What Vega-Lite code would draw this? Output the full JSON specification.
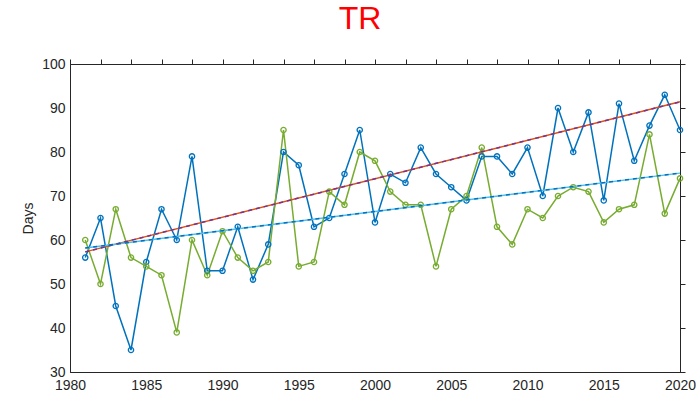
{
  "$schema": "https://vega.github.io/schema/vega-lite/v6.json",
  "width": 610,
  "height": 308,
  "autosize": {"type": "none"},
  "padding": {"left": 70, "top": 64, "right": 17, "bottom": 25},
  "title": {
    "text": "TR",
    "color": "#ff0000",
    "font": "Liberation Sans",
    "fontSize": 32,
    "fontWeight": "normal",
    "anchor": "middle",
    "dx": -15,
    "offset": 21
  },
  "datasets": {
    "annual": [
      {"year": 1981, "series": "series1", "days": 56}, {"year": 1982, "series": "series1", "days": 65},
      {"year": 1983, "series": "series1", "days": 45}, {"year": 1984, "series": "series1", "days": 35},
      {"year": 1985, "series": "series1", "days": 55}, {"year": 1986, "series": "series1", "days": 67},
      {"year": 1987, "series": "series1", "days": 60}, {"year": 1988, "series": "series1", "days": 79},
      {"year": 1989, "series": "series1", "days": 53}, {"year": 1990, "series": "series1", "days": 53},
      {"year": 1991, "series": "series1", "days": 63}, {"year": 1992, "series": "series1", "days": 51},
      {"year": 1993, "series": "series1", "days": 59}, {"year": 1994, "series": "series1", "days": 80},
      {"year": 1995, "series": "series1", "days": 77}, {"year": 1996, "series": "series1", "days": 63},
      {"year": 1997, "series": "series1", "days": 65}, {"year": 1998, "series": "series1", "days": 75},
      {"year": 1999, "series": "series1", "days": 85}, {"year": 2000, "series": "series1", "days": 64},
      {"year": 2001, "series": "series1", "days": 75}, {"year": 2002, "series": "series1", "days": 73},
      {"year": 2003, "series": "series1", "days": 81}, {"year": 2004, "series": "series1", "days": 75},
      {"year": 2005, "series": "series1", "days": 72}, {"year": 2006, "series": "series1", "days": 69},
      {"year": 2007, "series": "series1", "days": 79}, {"year": 2008, "series": "series1", "days": 79},
      {"year": 2009, "series": "series1", "days": 75}, {"year": 2010, "series": "series1", "days": 81},
      {"year": 2011, "series": "series1", "days": 70}, {"year": 2012, "series": "series1", "days": 90},
      {"year": 2013, "series": "series1", "days": 80}, {"year": 2014, "series": "series1", "days": 89},
      {"year": 2015, "series": "series1", "days": 69}, {"year": 2016, "series": "series1", "days": 91},
      {"year": 2017, "series": "series1", "days": 78}, {"year": 2018, "series": "series1", "days": 86},
      {"year": 2019, "series": "series1", "days": 93}, {"year": 2020, "series": "series1", "days": 85},
      {"year": 1981, "series": "series2", "days": 60}, {"year": 1982, "series": "series2", "days": 50},
      {"year": 1983, "series": "series2", "days": 67}, {"year": 1984, "series": "series2", "days": 56},
      {"year": 1985, "series": "series2", "days": 54}, {"year": 1986, "series": "series2", "days": 52},
      {"year": 1987, "series": "series2", "days": 39}, {"year": 1988, "series": "series2", "days": 60},
      {"year": 1989, "series": "series2", "days": 52}, {"year": 1990, "series": "series2", "days": 62},
      {"year": 1991, "series": "series2", "days": 56}, {"year": 1992, "series": "series2", "days": 53},
      {"year": 1993, "series": "series2", "days": 55}, {"year": 1994, "series": "series2", "days": 85},
      {"year": 1995, "series": "series2", "days": 54}, {"year": 1996, "series": "series2", "days": 55},
      {"year": 1997, "series": "series2", "days": 71}, {"year": 1998, "series": "series2", "days": 68},
      {"year": 1999, "series": "series2", "days": 80}, {"year": 2000, "series": "series2", "days": 78},
      {"year": 2001, "series": "series2", "days": 71}, {"year": 2002, "series": "series2", "days": 68},
      {"year": 2003, "series": "series2", "days": 68}, {"year": 2004, "series": "series2", "days": 54},
      {"year": 2005, "series": "series2", "days": 67}, {"year": 2006, "series": "series2", "days": 70},
      {"year": 2007, "series": "series2", "days": 81}, {"year": 2008, "series": "series2", "days": 63},
      {"year": 2009, "series": "series2", "days": 59}, {"year": 2010, "series": "series2", "days": 67},
      {"year": 2011, "series": "series2", "days": 65}, {"year": 2012, "series": "series2", "days": 70},
      {"year": 2013, "series": "series2", "days": 72}, {"year": 2014, "series": "series2", "days": 71},
      {"year": 2015, "series": "series2", "days": 64}, {"year": 2016, "series": "series2", "days": 67},
      {"year": 2017, "series": "series2", "days": 68}, {"year": 2018, "series": "series2", "days": 84},
      {"year": 2019, "series": "series2", "days": 66}, {"year": 2020, "series": "series2", "days": 74}
    ],
    "trend": [
      {"year": 1981, "series": "series1", "days": 57.3},
      {"year": 2020, "series": "series1", "days": 91.4},
      {"year": 1981, "series": "series2", "days": 58.2},
      {"year": 2020, "series": "series2", "days": 75.2}
    ]
  },
  "layer": [
    {
      "data": {"name": "annual"},
      "mark": {"type": "line", "strokeWidth": 1.5},
      "encoding": {
        "x": {
          "field": "year", "type": "quantitative",
          "scale": {"domain": [1980, 2020], "nice": false, "zero": false},
          "axis": {"title": null, "values": [1980, 1985, 1990, 1995, 2000, 2005, 2010, 2015, 2020], "format": "d", "ticks": false, "tickSize": 0, "labelPadding": 6, "labelFlush": false}
        },
        "y": {
          "field": "days", "type": "quantitative",
          "scale": {"domain": [30, 100], "nice": false, "zero": false},
          "axis": {"title": "Days", "values": [30, 40, 50, 60, 70, 80, 90, 100], "ticks": false, "tickSize": 0, "labelPadding": 5, "titlePadding": 6, "labelFlush": false}
        },
        "color": {
          "field": "series", "type": "nominal",
          "scale": {"domain": ["series1", "series2"], "range": ["#0072BD", "#77AC30"]},
          "legend": null
        }
      }
    },
    {
      "data": {"name": "trend"},
      "transform": [{"filter": "datum.series === 'series1'"}],
      "mark": {"type": "line", "strokeWidth": 1.5, "color": "#D95319"},
      "encoding": {
        "x": {
          "field": "year", "type": "quantitative",
          "scale": {"domain": [1980, 2020], "nice": false, "zero": false},
          "axis": {"orient": "top", "labels": false, "title": null, "tickSize": 5, "domainColor": "#262626", "domainWidth": 1, "tickColor": "#262626"}
        },
        "y": {
          "field": "days", "type": "quantitative",
          "scale": {"domain": [30, 100], "nice": false, "zero": false},
          "axis": {"orient": "right", "labels": false, "title": null, "tickSize": 5, "domainColor": "#262626", "domainWidth": 1, "tickColor": "#262626"}
        }
      }
    },
    {
      "data": {"name": "annual"},
      "mark": {"type": "point", "filled": false, "size": 28, "strokeWidth": 1.3, "opacity": 1},
      "encoding": {
        "x": {"field": "year", "type": "quantitative", "scale": {"domain": [1980, 2020], "nice": false, "zero": false}, "axis": null},
        "y": {"field": "days", "type": "quantitative", "scale": {"domain": [30, 100], "nice": false, "zero": false}, "axis": null},
        "color": {"field": "series", "type": "nominal", "legend": null}
      }
    },
    {
      "data": {"name": "trend"},
      "transform": [{"filter": "datum.series === 'series2'"}],
      "mark": {"type": "line", "strokeWidth": 1.5, "color": "#4DBEEE"},
      "encoding": {
        "x": {"field": "year", "type": "quantitative", "scale": {"domain": [1980, 2020], "nice": false, "zero": false}, "axis": null},
        "y": {"field": "days", "type": "quantitative", "scale": {"domain": [30, 100], "nice": false, "zero": false}, "axis": null}
      }
    },
    {
      "data": {"name": "trend"},
      "transform": [{"filter": "datum.series === 'series1'"}],
      "mark": {"type": "line", "strokeWidth": 1.5, "strokeDash": [4, 4], "color": "#7E2F8E"},
      "encoding": {
        "x": {"field": "year", "type": "quantitative", "scale": {"domain": [1980, 2020], "nice": false, "zero": false}, "axis": null},
        "y": {"field": "days", "type": "quantitative", "scale": {"domain": [30, 100], "nice": false, "zero": false}, "axis": null}
      }
    },
    {
      "data": {"name": "trend"},
      "transform": [{"filter": "datum.series === 'series2'"}],
      "mark": {"type": "line", "strokeWidth": 1.5, "strokeDash": [4, 4], "color": "#0072BD"},
      "encoding": {
        "x": {"field": "year", "type": "quantitative", "scale": {"domain": [1980, 2020], "nice": false, "zero": false}, "axis": null},
        "y": {"field": "days", "type": "quantitative", "scale": {"domain": [30, 100], "nice": false, "zero": false}, "axis": null}
      }
    }
  ],
  "resolve": {
    "scale": {"x": "independent", "y": "independent"},
    "axis": {"x": "independent", "y": "independent"}
  },
  "config": {
    "view": {"stroke": "#262626", "strokeWidth": 1},
    "axis": {
      "grid": false,
      "domainColor": "#262626",
      "domainWidth": 1,
      "tickColor": "#262626",
      "tickWidth": 1,
      "labelColor": "#262626",
      "labelFont": "Liberation Sans",
      "labelFontSize": 14,
      "titleFont": "Liberation Sans",
      "titleFontSize": 14,
      "titleFontWeight": "normal",
      "titleColor": "#262626"
    }
  }
}
